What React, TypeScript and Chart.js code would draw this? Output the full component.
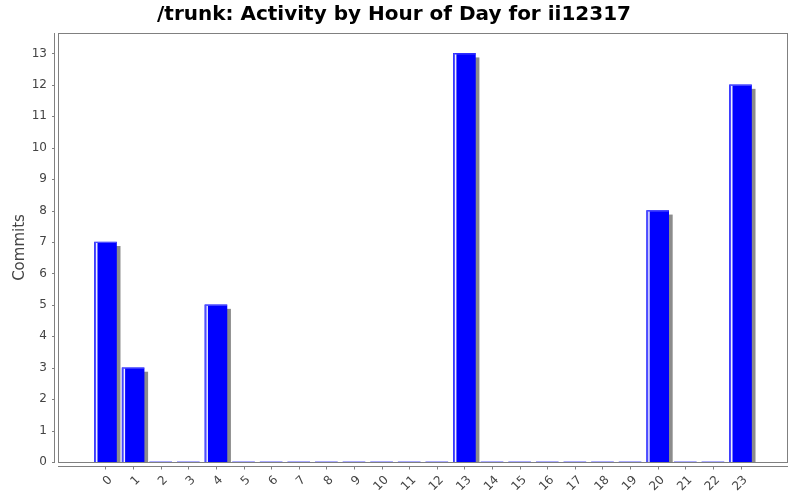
import { useEffect, useRef } from 'react';
import { Chart, registerables } from 'chart.js';
import type { Plugin } from 'chart.js';

Chart.register(...registerables);

// hour of day (category) and commit count per hour
const hours = [
  '0', '1', '2', '3', '4', '5', '6', '7', '8', '9', '10', '11',
  '12', '13', '14', '15', '16', '17', '18', '19', '20', '21', '22', '23',
];
const commits = [7, 3, 0, 0, 5, 0, 0, 0, 0, 0, 0, 0, 0, 13, 0, 0, 0, 0, 0, 0, 8, 0, 0, 12];
const yTickValues = [0, 1, 2, 3, 4, 5, 6, 7, 8, 9, 10, 11, 12, 13];

const title = '/trunk: Activity by Hour of Day for ii12317';
const yTitle = 'Commits';

const AXIS_GRAY = '#808080';
const LABEL_GRAY = '#444444';

// JFreeChart-like look: offset axes, plot outline, bar shadows and highlight
const jfreePlugin: Plugin<'bar'> = {
  id: 'jfreeLook',
  beforeDatasetsDraw(chart) {
    const { ctx, chartArea } = chart;
    const { left, right, top, bottom } = chartArea;
    const xScale = chart.scales.x;
    const yScale = chart.scales.y;
    ctx.save();
    ctx.strokeStyle = AXIS_GRAY;
    ctx.lineWidth = 1;
    // plot outline
    ctx.strokeRect(left + 0.5, top + 0.5, right - left - 1, bottom - top);
    // y axis line + ticks
    ctx.beginPath();
    ctx.moveTo(left - 3.5, top);
    ctx.lineTo(left - 3.5, bottom + 1);
    yTickValues.forEach((v) => {
      const py = Math.round(yScale.getPixelForValue(v)) + 0.5;
      ctx.moveTo(left - 6, py);
      ctx.lineTo(left - 3.5, py);
    });
    // x axis line + ticks
    ctx.moveTo(left, bottom + 4.5);
    ctx.lineTo(right, bottom + 4.5);
    hours.forEach((_, i) => {
      const px = Math.round(xScale.getPixelForValue(i)) + 0.5;
      ctx.moveTo(px, bottom + 4.5);
      ctx.lineTo(px, bottom + 7.5);
    });
    ctx.stroke();

    // bar shadows
    ctx.fillStyle = '#8c8c8c';
    chart.getDatasetMeta(0).data.forEach((el, i) => {
      if (!commits[i]) return;
      const { x, y, base, width } = el.getProps(['x', 'y', 'base', 'width'], true) as any;
      const l = x - width / 2;
      ctx.fillRect(l + 4, y + 4, width, base - y - 4);
    });
    ctx.restore();
  },
  afterDatasetsDraw(chart) {
    const { ctx } = chart;
    ctx.save();
    chart.getDatasetMeta(0).data.forEach((el, i) => {
      if (!commits[i]) return;
      const { x, y, base, width } = el.getProps(['x', 'y', 'base', 'width'], true) as any;
      const l = x - width / 2;
      ctx.fillStyle = '#4d4dff';
      ctx.fillRect(l, y, 1.5, base - y);
      ctx.fillRect(l, y, width, 1);
      ctx.fillStyle = '#f0f0ff';
      ctx.fillRect(l + 1.5, y + 1, 1.5, base - y - 1);
    });
    ctx.restore();
  },
};

export default function App() {
  const canvasRef = useRef<HTMLCanvasElement>(null);

  useEffect(() => {
    if (!canvasRef.current) return;
    Chart.defaults.font.family = "'DejaVu Sans', sans-serif";

    const chart = new Chart(canvasRef.current, {
      type: 'bar',
      data: {
        datasets: [
          {
            label: 'Commits',
            data: hours.map((_, i) => ({ x: i, y: commits[i] })),
            backgroundColor: '#0000ff',
            borderWidth: 0,
            barThickness: 22,
          },
        ],
      },
      options: {
        responsive: false,
        animation: false,
        layout: { padding: { left: 0, right: 12, top: 0, bottom: 0 } },
        plugins: {
          legend: { display: false },
          tooltip: { enabled: false },
          title: {
            display: true,
            text: title,
            color: '#000000',
            font: { size: 20, weight: 'bold' },
            padding: { top: 2.5, bottom: 6.5 },
          },
        },
        scales: {
          x: {
            type: 'linear',
            offset: false,
            min: -1.72,
            max: 24.72,
            grid: { display: false, drawTicks: false },
            border: { display: false },
            afterBuildTicks: (scale) => {
              scale.ticks = hours.map((_, i) => ({ value: i }));
            },
            afterFit: (scale) => {
              scale.height = 38;
            },
            ticks: {
              autoSkip: false,
              minRotation: 45,
              maxRotation: 45,
              padding: 11,
              labelOffset: 5,
              color: LABEL_GRAY,
              font: { size: 12 },
              callback: (v) => hours[Number(v)] ?? '',
            },
          },
          y: {
            min: 0,
            max: 13.65,
            grid: { display: false, drawTicks: false },
            border: { display: false },
            afterBuildTicks: (scale) => {
              scale.ticks = yTickValues.map((v) => ({ value: v }));
            },
            afterFit: (scale) => {
              scale.width = 58;
            },
            ticks: {
              padding: 11,
              color: LABEL_GRAY,
              font: { size: 12 },
            },
            title: {
              display: true,
              text: yTitle,
              color: LABEL_GRAY,
              font: { size: 15 },
              padding: { top: 11, bottom: 0 },
            },
          },
        },
      },
      plugins: [jfreePlugin],
    });

    return () => chart.destroy();
  }, []);

  return (
    <div style={{ position: 'fixed', left: 0, top: 0, width: 800, height: 500, background: '#ffffff' }}>
      <canvas ref={canvasRef} width={800} height={500} />
    </div>
  );
}
